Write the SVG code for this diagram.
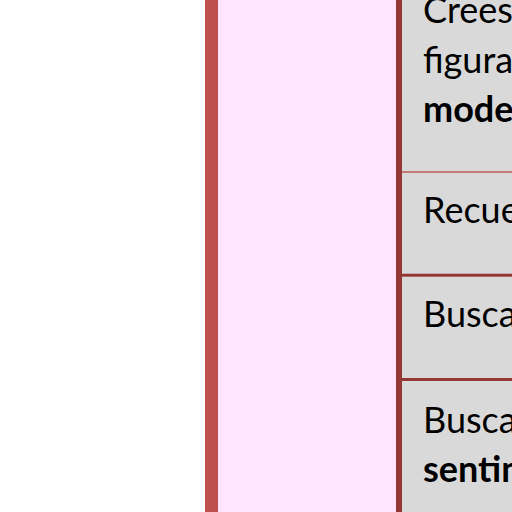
<svg xmlns="http://www.w3.org/2000/svg" width="512" height="512" viewBox="0 0 512 512">
  <style>
    .cell { fill: #D9D9D9; }
    .t { font-family: Lato, "Liberation Sans", Arial, sans-serif; font-size: 36px; fill: #000000; }
    .b { font-weight: bold; }
    .sep { stroke: #953735; stroke-width: 3; }
  </style>
  <rect x="0" y="0" width="512" height="512" fill="#FFFFFF"/>
  <g id="band">
    <rect x="205" y="0" width="13" height="512" fill="#C0504D"/>
    <rect x="218" y="0" width="178" height="512" fill="#FFE5FF"/>
    <rect x="396" y="0" width="6" height="512" fill="#953735"/>
  </g>
  <g id="cell1">
    <rect class="cell" x="402" y="0" width="110" height="171"/>
    <text class="t" x="423" y="23">Crees</text>
    <text class="t" x="423" y="73">figura</text>
    <text class="t b" x="423" y="122">mode</text>
  </g>
  <g id="cell2">
    <rect class="cell" x="402" y="173" width="110" height="101"/>
    <text class="t" x="423" y="223">Recue</text>
  </g>
  <g id="cell3">
    <rect class="cell" x="402" y="277" width="110" height="101"/>
    <text class="t" x="423" y="327">Busca</text>
  </g>
  <g id="cell4">
    <rect class="cell" x="402" y="381" width="110" height="131"/>
    <text class="t" x="423" y="433">Busca</text>
    <text class="t b" x="423" y="482">sentin</text>
  </g>
  <g id="connectors">
    <line x1="402" y1="172" x2="512" y2="172" stroke="#B0504D" stroke-width="1.6"/>
    <line class="sep" x1="402" y1="275.2" x2="512" y2="275.2"/>
    <line class="sep" x1="402" y1="379.4" x2="512" y2="379.4"/>
  </g>
</svg>
